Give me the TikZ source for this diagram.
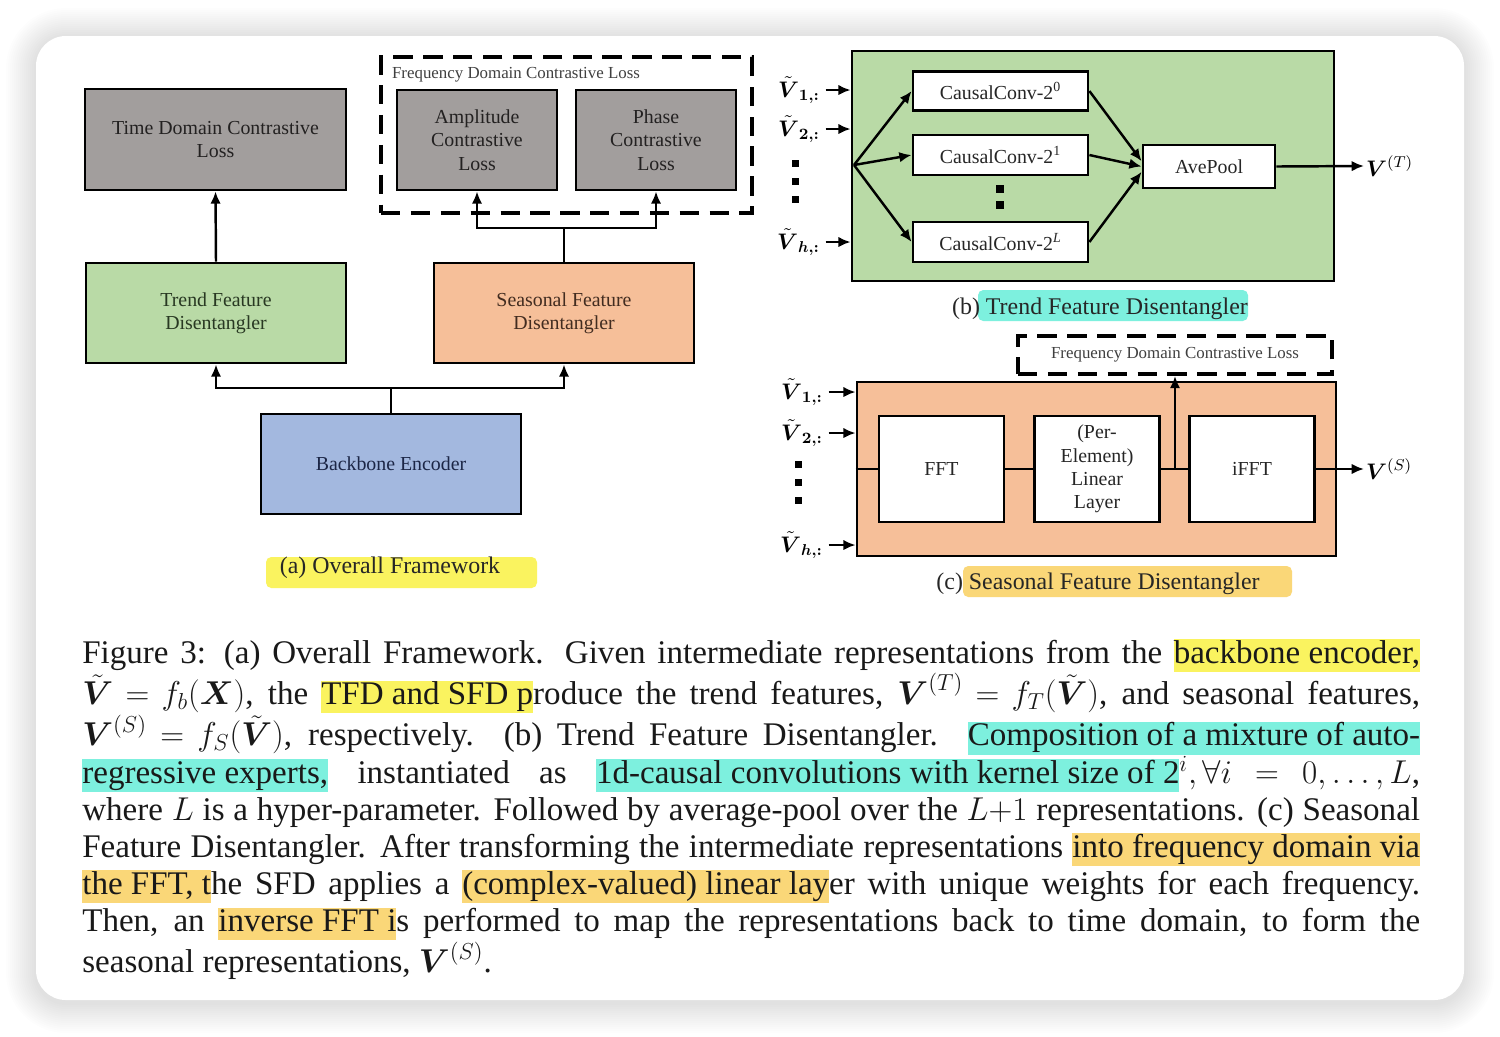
\RequirePackage{fix-cm}
\documentclass[tikz,border=0pt]{standalone}
\usepackage{amsmath, amssymb}
\usepackage{fontspec}
\setmainfont{Liberation Serif}
\usepackage{tikz}
\usetikzlibrary{arrows.meta, positioning}

\definecolor{lossgray}{RGB}{162,158,157}
\definecolor{losstext}{RGB}{35,33,33}
\definecolor{trendgreen}{RGB}{185,218,166}
\definecolor{trendtext}{RGB}{40,56,34}
\definecolor{seasorange}{RGB}{246,191,153}
\definecolor{seastext}{RGB}{66,44,32}
\definecolor{encblue}{RGB}{163,184,223}
\definecolor{enctext}{RGB}{28,38,70}
\definecolor{hlyellow}{RGB}{250,243,95}
\definecolor{hlcyan}{RGB}{125,240,222}
\definecolor{hlorange}{RGB}{250,215,120}

\newcommand{\hlmark}[2]{{\setlength{\fboxsep}{0pt}\colorbox{#1}{\rule[-0.26em]{0pt}{0.98em}#2}}}
\newcommand{\tV}{\tilde{\boldsymbol{V}}}
\newcommand{\bV}{\boldsymbol{V}}
\newcommand{\capspacing}{\thickmuskip=5mu plus 1.5mu\relax\medmuskip=4mu plus 1mu\relax\lineskiplimit=-1pt\relax}

\begin{document}
\begin{tikzpicture}[x=0.02cm, y=-0.02cm, >={Latex[length=7pt,width=6pt]},
    lossbox/.style={draw, line width=1.6pt, fill=lossgray, text=losstext, align=center, minimum height=2cm, inner sep=1pt, font=\fontsize{11.3}{13.3}\selectfont},
    blockbox/.style={lossbox, minimum width=5.2cm},
    innerbox/.style={draw, line width=1.6pt, fill=white, text=black!85, align=center, inner sep=1pt, font=\fontsize{11.3}{13.3}\selectfont},
    bigbox/.style={draw, line width=1.6pt},
    dashbox/.style={draw, line width=2.2pt, dash pattern=on 11pt off 6pt},
    smalltext/.style={font=\fontsize{9.6}{11}\selectfont, text=black!75, inner sep=1pt},
    subcap/.style={font=\fontsize{13.6}{16}\selectfont, text=black!85, inner sep=0pt},
    mathlbl/.style={font=\fontsize{12.8}{15}\selectfont, inner sep=1pt},
    conn/.style={line width=1.4pt},
    dotsq/.style={fill=black},
    captext/.style={anchor=north west, text width=26.76cm, align=justify, inner sep=0pt, text=black!90,
        font=\fontsize{18.8}{21.1}\selectfont\capspacing}]
    \useasboundingbox (0,0) rectangle (1500,1036);
    \fill[white] (0,0) rectangle (1500,1036);
    % card and its shadow
    \foreach \i [evaluate=\i as \dd using 2*\i, evaluate=\i as \rr using 17+1.15*\i] in {1,...,15}
        \fill[black, opacity=0.008, rounded corners=\rr pt] (36-\dd,38-\dd) rectangle (1464+\dd,1003+\dd);
    \fill[white, rounded corners=17pt] (36,36) rectangle (1464,1000);

    % (a) overall framework
    \node[dashbox, minimum width=7.42cm, minimum height=3.12cm] (fdcl) at (566.5,135) {};
    \node[smalltext, anchor=west] (fdlabel) at (390,75) {Frequency Domain Contrastive Loss};
    \node[lossbox, minimum width=5.22cm, minimum height=2.02cm] (tdcl) at (215.5,139.5) {Time Domain Contrastive\\Loss};
    \node[lossbox, minimum width=3.2cm] (amp) at (477,140) {Amplitude\\Contrastive\\Loss};
    \node[lossbox, minimum width=3.2cm] (phase) at (656,140) {Phase\\Contrastive\\Loss};
    \node[blockbox, fill=trendgreen, text=trendtext] (tfd) at (216,313) {Trend Feature\\Disentangler};
    \node[blockbox, fill=seasorange, text=seastext] (sfd) at (564,313) {Seasonal Feature\\Disentangler};
    \node[blockbox, fill=encblue, text=enctext] (enc) at (391,464) {Backbone Encoder};
    \coordinate (encj) at (391,388);
    \coordinate (sfdj) at (564,228);
    \draw[conn] (enc.north) -- (encj);
    \draw[conn, ->] (encj) -| (tfd.south);
    \draw[conn, ->] (encj) -| (sfd.south);
    \draw[conn, ->] (tfd.north) -- (tdcl.south);
    \draw[conn] (sfd.north) -- (sfdj);
    \draw[conn, ->] (sfdj) -| (amp.south);
    \draw[conn, ->] (sfdj) -| (phase.south);
    \fill[hlyellow, rounded corners=3pt] (266,557) rectangle (537,588);
    \node[subcap] (capa) at (390,568) {(a) Overall Framework};

    % (b) trend feature disentangler
    \node[bigbox, fill=trendgreen, minimum width=9.64cm, minimum height=4.6cm] (tfdbig) at (1093,166) {};
    \node[innerbox, minimum width=3.5cm, minimum height=0.78cm] (conv0) at (1000.5,91) {CausalConv-2\textsuperscript{0}};
    \node[innerbox, minimum width=3.5cm, minimum height=0.8cm] (conv1) at (1000.5,155) {CausalConv-2\textsuperscript{1}};
    \node[innerbox, minimum width=3.5cm, minimum height=0.8cm] (convL) at (1000.5,242) {CausalConv-2\textsuperscript{\textit{L}}};
    \node[innerbox, minimum width=2.64cm, minimum height=0.86cm] (avepool) at (1209,166.5) {AvePool};
    \foreach \yy in {189,205}
        \fill[dotsq] (996,\yy-4) rectangle ++(8,8);
    \coordinate (fan) at (854,165);
    \foreach \c in {conv0, conv1, convL}
        \draw[conn, ->] (fan) -- (\c.west);
    \draw[conn, ->] (conv0.east) -- ([yshift=3pt]avepool.west);
    \draw[conn, ->] (conv1.east) -- (avepool.west);
    \draw[conn, ->] (convL.east) -- ([yshift=-3pt]avepool.west);
    \node[mathlbl, anchor=west] (vt) at (1364,166) {$\bV^{(T)}$};
    \draw[conn, ->] (avepool.east) -- (vt.west);
    \node[mathlbl, anchor=east] (vb1) at (822,90) {$\tV_{\boldsymbol{1,:}}$};
    \node[mathlbl, anchor=east] (vb2) at (822,129) {$\tV_{\boldsymbol{2,:}}$};
    \node[mathlbl, anchor=east] (vbh) at (822,242) {$\tV_{\boldsymbol{h,:}}$};
    \foreach \v in {vb1, vb2, vbh}
        \draw[conn, ->, shorten <=2pt] (\v.east) -- (\v.east -| tfdbig.west);
    \foreach \yy in {163,181,199}
        \fill[dotsq] (792,\yy-3.5) rectangle ++(7,7);
    \fill[hlcyan, rounded corners=3pt] (978,290) rectangle (1248,321);
    \node[subcap] (capb) at (1100,309) {(b) Trend Feature Disentangler};

    % (c) seasonal feature disentangler
    \node[dashbox, minimum width=6.28cm, minimum height=0.76cm, smalltext] (fdcl2) at (1175,355) {Frequency Domain Contrastive Loss};
    \node[bigbox, fill=seasorange, minimum width=9.58cm, minimum height=3.48cm] (sfdbig) at (1096.5,469) {};
    \node[innerbox, minimum width=2.5cm, minimum height=2.12cm] (fft) at (941.5,469) {FFT};
    \node[innerbox, minimum width=2.5cm, minimum height=2.12cm] (lin) at (1097,469) {(Per-\\Element)\\Linear\\Layer};
    \node[innerbox, minimum width=2.5cm, minimum height=2.12cm] (ifft) at (1252,469) {iFFT};
    \coordinate (linj) at (1175,469);
    \node[mathlbl, anchor=west] (vs) at (1364,469) {$\bV^{(S)}$};
    \draw[conn] (sfdbig.west) -- (fft.west);
    \draw[conn] (fft.east) -- (lin.west);
    \draw[conn] (lin.east) -- (ifft.west);
    \draw[conn, ->] (ifft.east) -- (vs.west);
    \draw[conn, ->] (linj) -- (fdcl2.south);
    \node[mathlbl, anchor=east] (vc1) at (825,392) {$\tV_{\boldsymbol{1,:}}$};
    \node[mathlbl, anchor=east] (vc2) at (825,433) {$\tV_{\boldsymbol{2,:}}$};
    \node[mathlbl, anchor=east] (vch) at (825,545) {$\tV_{\boldsymbol{h,:}}$};
    \foreach \v in {vc1, vc2, vch}
        \draw[conn, ->, shorten <=2pt] (\v.east) -- (\v.east -| sfdbig.west);
    \foreach \yy in {464,482,500}
        \fill[dotsq] (795,\yy-3.5) rectangle ++(7,7);
    \fill[hlorange, rounded corners=3pt] (963,566) rectangle (1292,597);
    \node[subcap] (capc) at (1098,584) {(c) Seasonal Feature Disentangler};

    % caption
    \node[captext] (caption) at (82,639) {Figure 3: (a) Overall Framework. Given intermediate representations from the \hlmark{hlyellow}{backbone encoder,}\linebreak
    $\tV = f_b(\boldsymbol{X})$, the \hlmark{hlyellow}{TFD and SFD p}roduce the trend features, $\bV^{(T)} = f_T(\tV)$, and seasonal features,\linebreak
    $\bV^{(S)} = f_S(\tV)$, respectively. (b) Trend Feature Disentangler. \hlmark{hlcyan}{Composition of a mixture of auto-}\linebreak
    \hlmark{hlcyan}{regressive experts,} instantiated as \hlmark{hlcyan}{1d-causal convolutions with kernel size of 2}${}^i, \forall i = 0, \ldots, L$,\linebreak
    where $L$ is a hyper-parameter. Followed by average-pool over the $L{+}1$ representations. (c) Seasonal\linebreak
    Feature Disentangler. After transforming the intermediate representations \hlmark{hlorange}{into frequency domain via}\linebreak
    \hlmark{hlorange}{the FFT, t}he SFD applies a \hlmark{hlorange}{(complex-valued) linear lay}er with unique weights for each frequency.\linebreak
    Then, an \hlmark{hlorange}{inverse FFT i}s performed to map the representations back to time domain, to form the\linebreak
    seasonal representations, $\bV^{(S)}$.};
\end{tikzpicture}
\end{document}
